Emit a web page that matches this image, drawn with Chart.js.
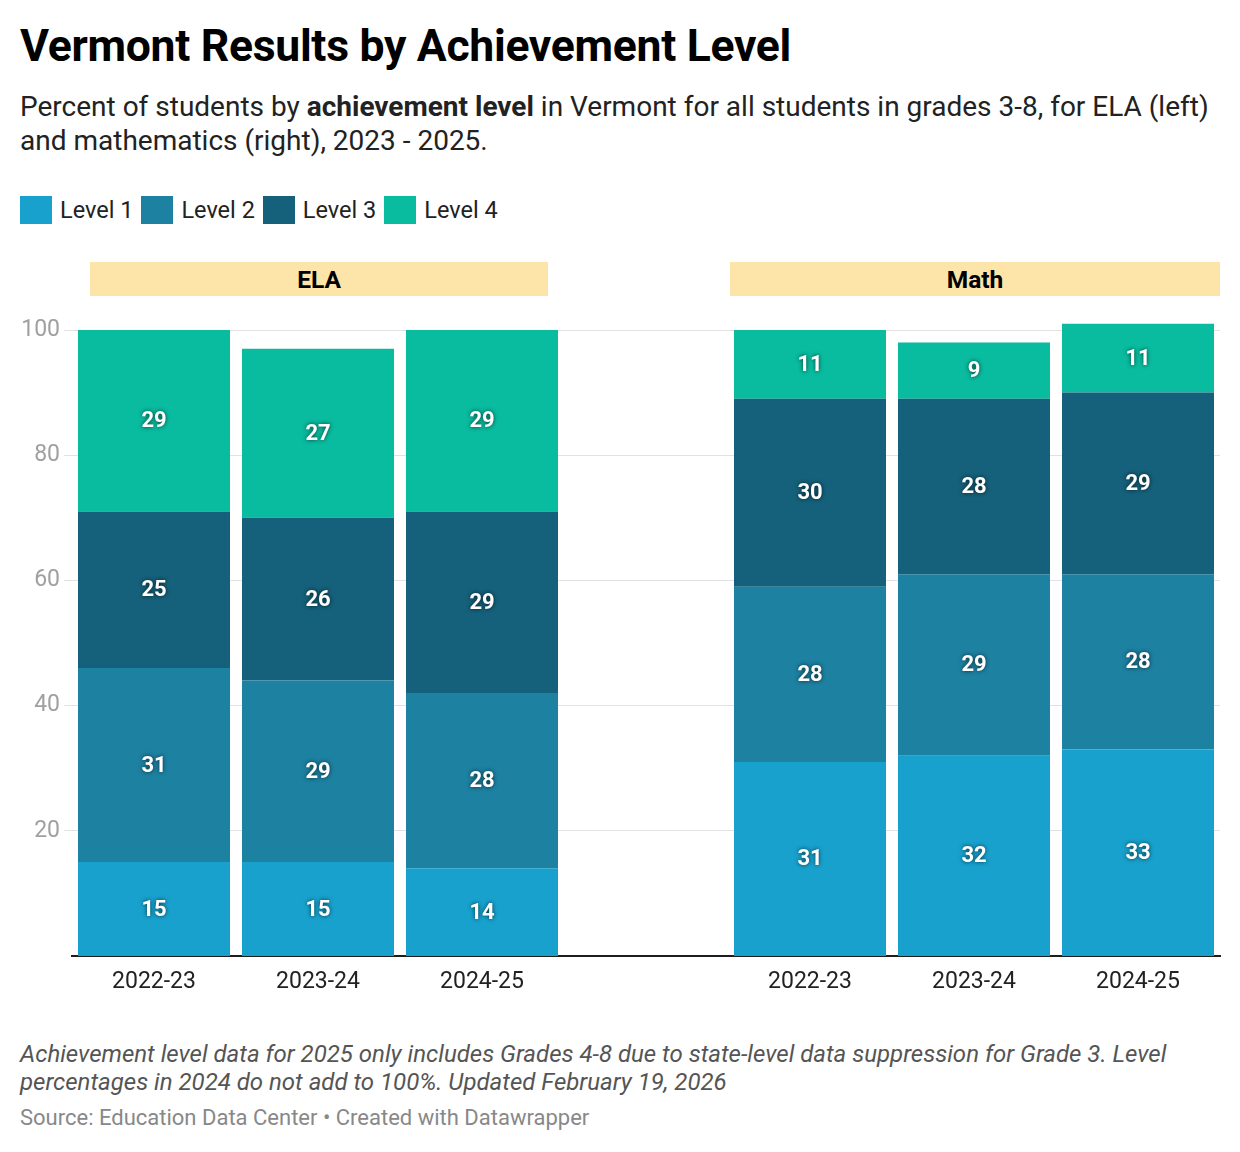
<!DOCTYPE html>
<html>
<head>
<meta charset="utf-8">
<script src="https://cdn.jsdelivr.net/npm/chart.js@4"></script>
<style>
  body { margin: 0; background: #fff; font-family: Roboto, sans-serif; color: #222; }
  #page { position: relative; width: 1240px; height: 1152px; }
  h1 { position: absolute; left: 20px; top: 20px; margin: 0; font-size: 44.5px; font-weight: 700; color: #000; letter-spacing: -0.3px; white-space: nowrap; }
  .sub { position: absolute; left: 20px; top: 90px; width: 1220px; font-size: 28px; line-height: 34px; color: #222; white-space: nowrap; }
  .legend { position: absolute; left: 20px; top: 196px; display: flex; align-items: center; font-size: 23.5px; }
  .legend span.sw { display: inline-block; width: 32px; height: 28px; margin-right: 8px; }
  .legend span.lb { margin-right: 8px; }
  .head { position: absolute; top: 262px; height: 34px; background: #fde4a9; font-weight: 700; font-size: 24.5px; line-height: 35px; text-align: center; color: #000; }
  #wrap { position: absolute; left: 0; top: 300px; width: 1240px; height: 706px; }
  .note { position: absolute; left: 20px; top: 1040px; width: 1220px; font-style: italic; font-size: 24px; line-height: 28px; color: #555; white-space: nowrap; }
  .src { position: absolute; left: 20px; top: 1105px; font-size: 22px; color: #888; }
</style>
</head>
<body>
<div id="page">
  <h1>Vermont Results by Achievement Level</h1>
  <div class="sub">Percent of students by <b>achievement level</b> in Vermont for all students in grades 3-8, for ELA (left)<br>and mathematics (right), 2023 - 2025.</div>
  <div class="legend" id="legend"></div>
  <div class="head" style="left:90px;width:458px">ELA</div>
  <div class="head" style="left:730px;width:490px">Math</div>
  <div id="wrap"><canvas id="myChart"></canvas></div>
  <div class="note">Achievement level data for 2025 only includes Grades 4-8 due to state-level data suppression for Grade 3. Level<br>percentages in 2024 do not add to 100%. Updated February 19, 2026</div>
  <div class="src">Source: Education Data Center • Created with Datawrapper</div>
</div>
<script>
const years = ['2022-23', '2023-24', '2024-25'];
const levels = ['Level 1', 'Level 2', 'Level 3', 'Level 4'];
const colors = ['#18a1cd', '#1d81a2', '#15607a', '#09bb9f'];

// ELA, one array per level
const ela1 = [15, 15, 14];
const ela2 = [31, 29, 28];
const ela3 = [25, 26, 29];
const ela4 = [29, 27, 29];

// Math
const math1 = [31, 32, 33];
const math2 = [28, 29, 28];
const math3 = [30, 28, 29];
const math4 = [11, 9, 11];

const yTicks = [20, 40, 60, 80, 100];

// empty slot between the two panels
const labels = years.concat([''], years);
const ela = [ela1, ela2, ela3, ela4];
const math = [math1, math2, math3, math4];

const legend = document.getElementById('legend');
levels.forEach(function(l, i) {
  legend.innerHTML += '<span class="sw" style="background:' + colors[i] + '"></span><span class="lb">' + l + '</span>';
});

const barLabels = {
  id: 'barLabels',
  afterDatasetsDraw(chart) {
    const ctx = chart.ctx;
    ctx.save();
    ctx.font = 'bold 22px Roboto';
    ctx.textAlign = 'center';
    ctx.textBaseline = 'middle';
    ctx.fillStyle = '#fff';
    ctx.shadowColor = 'rgba(0,0,0,0.7)';
    ctx.shadowBlur = 4;
    chart.data.datasets.forEach(function(ds, i) {
      chart.getDatasetMeta(i).data.forEach(function(bar, j) {
        const v = ds.data[j];
        if (v == null) return;
        const mid = (bar.y + bar.base) / 2;
        ctx.fillText(v, bar.x, mid + 1);
      });
    });
    ctx.restore();
  }
};

function myChart() {
  const ctx = document.getElementById('myChart').getContext('2d');
  new Chart(ctx, {
    type: 'bar',
    data: {
      labels: labels,
      datasets: levels.map(function(l, i) {
        return {
          label: l,
          data: ela[i].concat([null], math[i]),
          backgroundColor: colors[i],
          borderWidth: 0,
          barPercentage: 1,
          categoryPercentage: 152 / 164,
          clip: false
        };
      })
    },
    options: {
      responsive: true,
      maintainAspectRatio: false,
      animation: false,
      layout: { padding: { top: 30, right: 20, left: 0, bottom: 0 } },
      scales: {
        x: {
          stacked: true,
          grid: { display: false, drawTicks: false },
          border: { color: '#1d1d1d', width: 2 },
          ticks: { color: '#222', font: { family: 'Roboto', size: 23 }, padding: 12 },
          afterFit: function(s) { s.height = 50; }
        },
        y: {
          stacked: true,
          min: 0,
          max: 100,
          afterBuildTicks: function(s) { s.ticks = yTicks.map(function(v) { return { value: v }; }); },
          grid: { color: '#e2e2e2', lineWidth: 1, tickLength: 8, drawTicks: true },
          border: { display: false },
          ticks: { color: '#a0a0a0', font: { family: 'Roboto', size: 23 }, padding: 4 },
          afterFit: function(s) { s.width = 72; }
        }
      },
      plugins: {
        legend: { display: false },
        tooltip: { enabled: false }
      }
    },
    plugins: [barLabels]
  });
}
myChart();
</script>
</body>
</html>
